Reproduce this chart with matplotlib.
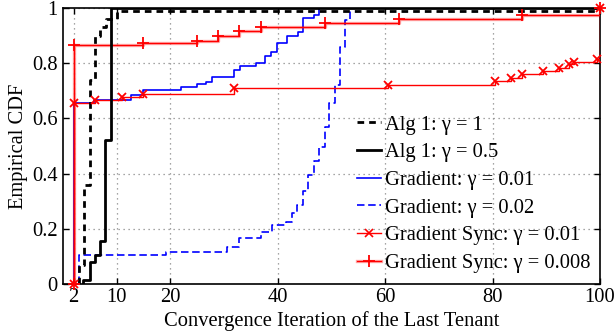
import matplotlib
matplotlib.use("Agg")
import matplotlib.pyplot as plt
from matplotlib.lines import Line2D

plt.rcParams['font.family'] = ['Liberation Serif', 'DejaVu Serif']
plt.rcParams['mathtext.fontset'] = 'stix'

# ---- data (step CDFs: x where the CDF jumps, y value after the jump) ----
alg1_g1_x = [2.9, 2.9, 4.0, 5.0, 5.9, 6.9, 8.0, 10.0, 100]
alg1_g1_y = [0.0, 0.07, 0.36, 0.74, 0.90, 0.93, 0.96, 0.99, 0.99]

alg1_g05_x = [3.8, 3.8, 5.0, 5.9, 6.9, 7.9, 9.0, 100]
alg1_g05_y = [0.0, 0.015, 0.08, 0.105, 0.155, 0.52, 1.0, 1.0]

grad_001_x = [2.0, 2.0, 5.8, 12.7, 14.9, 22.0, 24.9, 26.7, 27.8, 31.9, 32.9, 35.9,
              37.7, 38.8, 39.8, 41.7, 43.8, 44.6, 46.8, 47.7, 100]
grad_001_y = [0.0, 0.655, 0.665, 0.685, 0.703, 0.712, 0.723, 0.733, 0.751, 0.775, 0.79, 0.802,
              0.826, 0.839, 0.875, 0.90, 0.912, 0.962, 0.975, 1.0, 1.0]

grad_002_x = [2.9, 2.9, 19.2, 30.5, 32.8, 36.8, 39.0, 41.5, 42.7, 43.6, 44.6, 45.7,
              46.7, 47.6, 48.7, 49.6, 50.7, 51.6, 52.5, 53.4, 100]
grad_002_y = [0.0, 0.105, 0.117, 0.135, 0.165, 0.19, 0.214, 0.226, 0.256, 0.286, 0.338, 0.395,
              0.447, 0.497, 0.57, 0.655, 0.72, 0.86, 0.957, 1.0, 1.0]

sync_001_x = [2.0, 2.0, 5.9, 10.9, 14.9, 31.9, 60.6, 80.4, 83.4, 85.4, 89.4, 92.3, 94.3,
              95.2, 99.5, 100.0]
sync_001_y = [0.0, 0.656, 0.665, 0.677, 0.687, 0.709, 0.722, 0.735, 0.748, 0.76, 0.77, 0.784,
              0.796, 0.804, 0.815, 1.0]

sync_0008_x = [2.0, 2.0, 14.9, 24.9, 28.8, 32.8, 36.8, 48.7, 62.6, 85.4, 100.0]
sync_0008_y = [0.0, 0.866, 0.872, 0.882, 0.90, 0.918, 0.932, 0.944, 0.96, 0.975, 1.0]

x_ticks = [2, 10, 20, 40, 60, 80, 100]
y_ticks = [0, 0.2, 0.4, 0.6, 0.8, 1]
y_tick_labels = ['0', '0.2', '0.4', '0.6', '0.8', '1']

labels = ['Alg 1: γ = 1', 'Alg 1: γ = 0.5', 'Gradient: γ = 0.01', 'Gradient: γ = 0.02',
          'Gradient Sync: γ = 0.01', 'Gradient Sync: γ = 0.008']

FS = 14.8

fig = plt.figure(figsize=(6.16, 3.35), dpi=100)
ax = fig.add_axes([63/616, 51/335, 537/616, 276/335])

ax.set_xlim(0, 100)
ax.set_ylim(0, 1)
ax.set_xticks(x_ticks)
ax.set_yticks(y_ticks)
ax.set_yticklabels(y_tick_labels)
ax.grid(True, linestyle=(0, (1, 3)), color='#888888', linewidth=0.9)
ax.tick_params(direction='in', length=4, width=1, top=True, right=True,
               labelsize=FS, pad=4)
ax.tick_params(axis='x', pad=3)
for s in ax.spines.values():
    s.set_linewidth(1.2)

l1, = ax.plot(alg1_g1_x, alg1_g1_y, drawstyle='steps-post', color='black', lw=2.0,
              linestyle=(0, (2.4, 1.8)), zorder=5)
l2, = ax.plot(alg1_g05_x, alg1_g05_y, drawstyle='steps-post', color='black', lw=2.0, zorder=5)
l3, = ax.plot(grad_001_x, grad_001_y, drawstyle='steps-post', color='blue', lw=1.2, zorder=3)
l4, = ax.plot(grad_002_x, grad_002_y, drawstyle='steps-post', color='blue', lw=1.2,
              linestyle=(0, (4.5, 2.2)), zorder=3)
# gradient sync curves: steps plus markers at jump points
ax.plot(sync_0008_x, sync_0008_y, drawstyle='steps-post', color='red', lw=2.4, alpha=0.35, zorder=4)
ax.plot(sync_0008_x, sync_0008_y, drawstyle='steps-post', color='red', lw=0.9, zorder=4)
ax.plot(sync_0008_x, sync_0008_y, linestyle='none', marker='+', ms=8, mew=1.3, color='red',
        zorder=6, clip_on=False)
ax.plot(sync_001_x, sync_001_y, drawstyle='steps-post', color='red', lw=1.0, zorder=4)
ax.plot(sync_001_x, sync_001_y, linestyle='none', marker='x', ms=6, mew=1.3, color='red',
        zorder=6, clip_on=False)

h5 = Line2D([], [], color='red', lw=1.0, marker='x', ms=6, mew=1.2)
h6a = Line2D([], [], color='red', lw=2.4, alpha=0.35)
h6b = Line2D([], [], color='red', lw=0.9, marker='+', ms=8, mew=1.3)

ax.legend([l1, l2, l3, l4, h5, (h6a, h6b)], labels, loc='center left',
          bbox_to_anchor=((357-63)/537, (284-194)/276), frameon=False,
          fontsize=FS, handlelength=1.15, handletextpad=0.2, labelspacing=0.4,
          borderpad=0, borderaxespad=0)

ax.set_xlabel('Convergence Iteration of the Last Tenant', fontsize=FS, labelpad=3)
ax.set_ylabel('Empirical CDF', fontsize=FS)
ax.yaxis.set_label_coords(-0.066, 0.5)

fig.savefig('out.png', dpi=100)
